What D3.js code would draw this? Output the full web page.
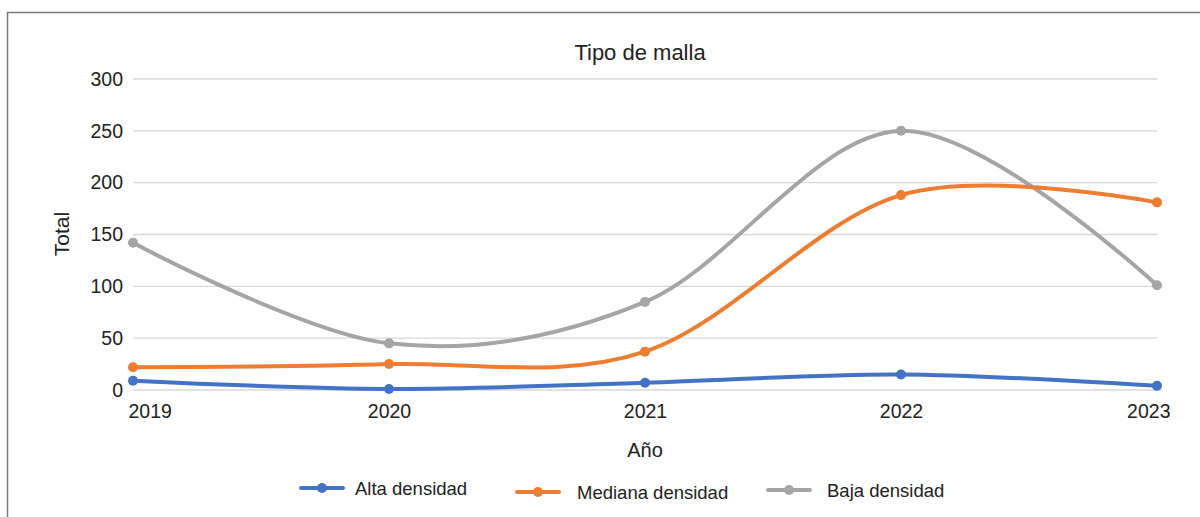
<!DOCTYPE html>
<html><head><meta charset="utf-8">
<script src="https://cdn.jsdelivr.net/npm/d3@7"></script>
<style>body{margin:0;background:#fff}svg{display:block}text{font-family:"Liberation Sans",Arial,sans-serif;fill:#222}</style>
</head><body>
<svg id="c" width="1200" height="517"></svg>
<script>
const years = ["2019","2020","2021","2022","2023"];
const alta = [9, 1, 7, 15, 4];
const mediana = [22, 25, 37, 188, 181];
const baja = [142, 45, 85, 250, 101];
const yTicks = [0, 50, 100, 150, 200, 250, 300];
const seriesNames = ["Alta densidad", "Mediana densidad", "Baja densidad"];
const colors = ["#4472C4", "#ED7D31", "#A5A5A5"];

const svg = d3.select("#c");
svg.append("rect").attr("x",7.5).attr("y",12.5).attr("width",1200).attr("height",520)
  .attr("fill","none").attr("stroke","#7a7a7a").attr("stroke-width",1.5);

const x = d3.scalePoint().domain(years).range([133,1157]);
const y = d3.scaleLinear().domain([0,300]).range([390,79]);

// grid
const g = svg.append("g");
g.selectAll("line.grid").data(yTicks).join("line")
  .attr("x1",133).attr("x2",1157).attr("y1",d=>y(d)).attr("y2",d=>y(d))
  .attr("stroke","#d9d9d9").attr("stroke-width",1.3);

// y axis
const ya = svg.append("g").attr("transform","translate(133,0)")
  .call(d3.axisLeft(y).tickValues(yTicks).tickSize(0).tickPadding(10));
ya.select(".domain").remove();
ya.selectAll("text").attr("font-size",19.5).attr("fill","#222").attr("font-family","Liberation Sans, Arial, sans-serif");

// x axis
const xa = svg.append("g").attr("transform","translate(0,390)")
  .call(d3.axisBottom(x).tickSize(0).tickPadding(14));
xa.select(".domain").remove();
xa.selectAll("text").attr("font-size",19.5).attr("fill","#222").attr("font-family","Liberation Sans, Arial, sans-serif")
  .attr("text-anchor",(d,i)=> i===0?"start":(i===years.length-1?"end":"middle"))
  .attr("dx",(d,i)=> i===0?-5:(i===years.length-1?13:0));

// titles
svg.append("text").attr("x",640).attr("y",60).attr("text-anchor","middle").attr("font-size",22).text("Tipo de malla");
svg.append("text").attr("x",645).attr("y",457).attr("text-anchor","middle").attr("font-size",20).text("Año");
svg.append("text").attr("transform","translate(69,234) rotate(-90)").attr("text-anchor","middle").attr("font-size",21).text("Total");

// lines
const data = [alta, mediana, baja];
const line = d3.line().x((d,i)=>x(years[i])).y(d=>y(d)).curve(d3.curveCardinal.tension(0));
[2,1,0].forEach(si=>{
  const s = data[si];
  svg.append("path").attr("d",line(s)).attr("fill","none").attr("stroke",colors[si])
    .attr("stroke-width",4).attr("stroke-linecap","round");
  svg.selectAll(null).data(s).join("circle")
    .attr("cx",(d,i)=>x(years[i])).attr("cy",d=>y(d)).attr("r",5).attr("fill",colors[si]);
});

// legend
const legPos = [{x:301,y:488,tx:355},{x:517,y:492,tx:577},{x:768,y:490,tx:827}];
seriesNames.forEach((n,i)=>{
  const p = legPos[i];
  svg.append("line").attr("x1",p.x).attr("x2",p.x+42).attr("y1",p.y).attr("y2",p.y)
    .attr("stroke",colors[i]).attr("stroke-width",4).attr("stroke-linecap","round");
  svg.append("circle").attr("cx",p.x+21).attr("cy",p.y).attr("r",5).attr("fill",colors[i]);
  svg.append("text").attr("x",p.tx).attr("y",p.y+7).attr("font-size",18.5).text(n);
});
</script>
</body></html>
